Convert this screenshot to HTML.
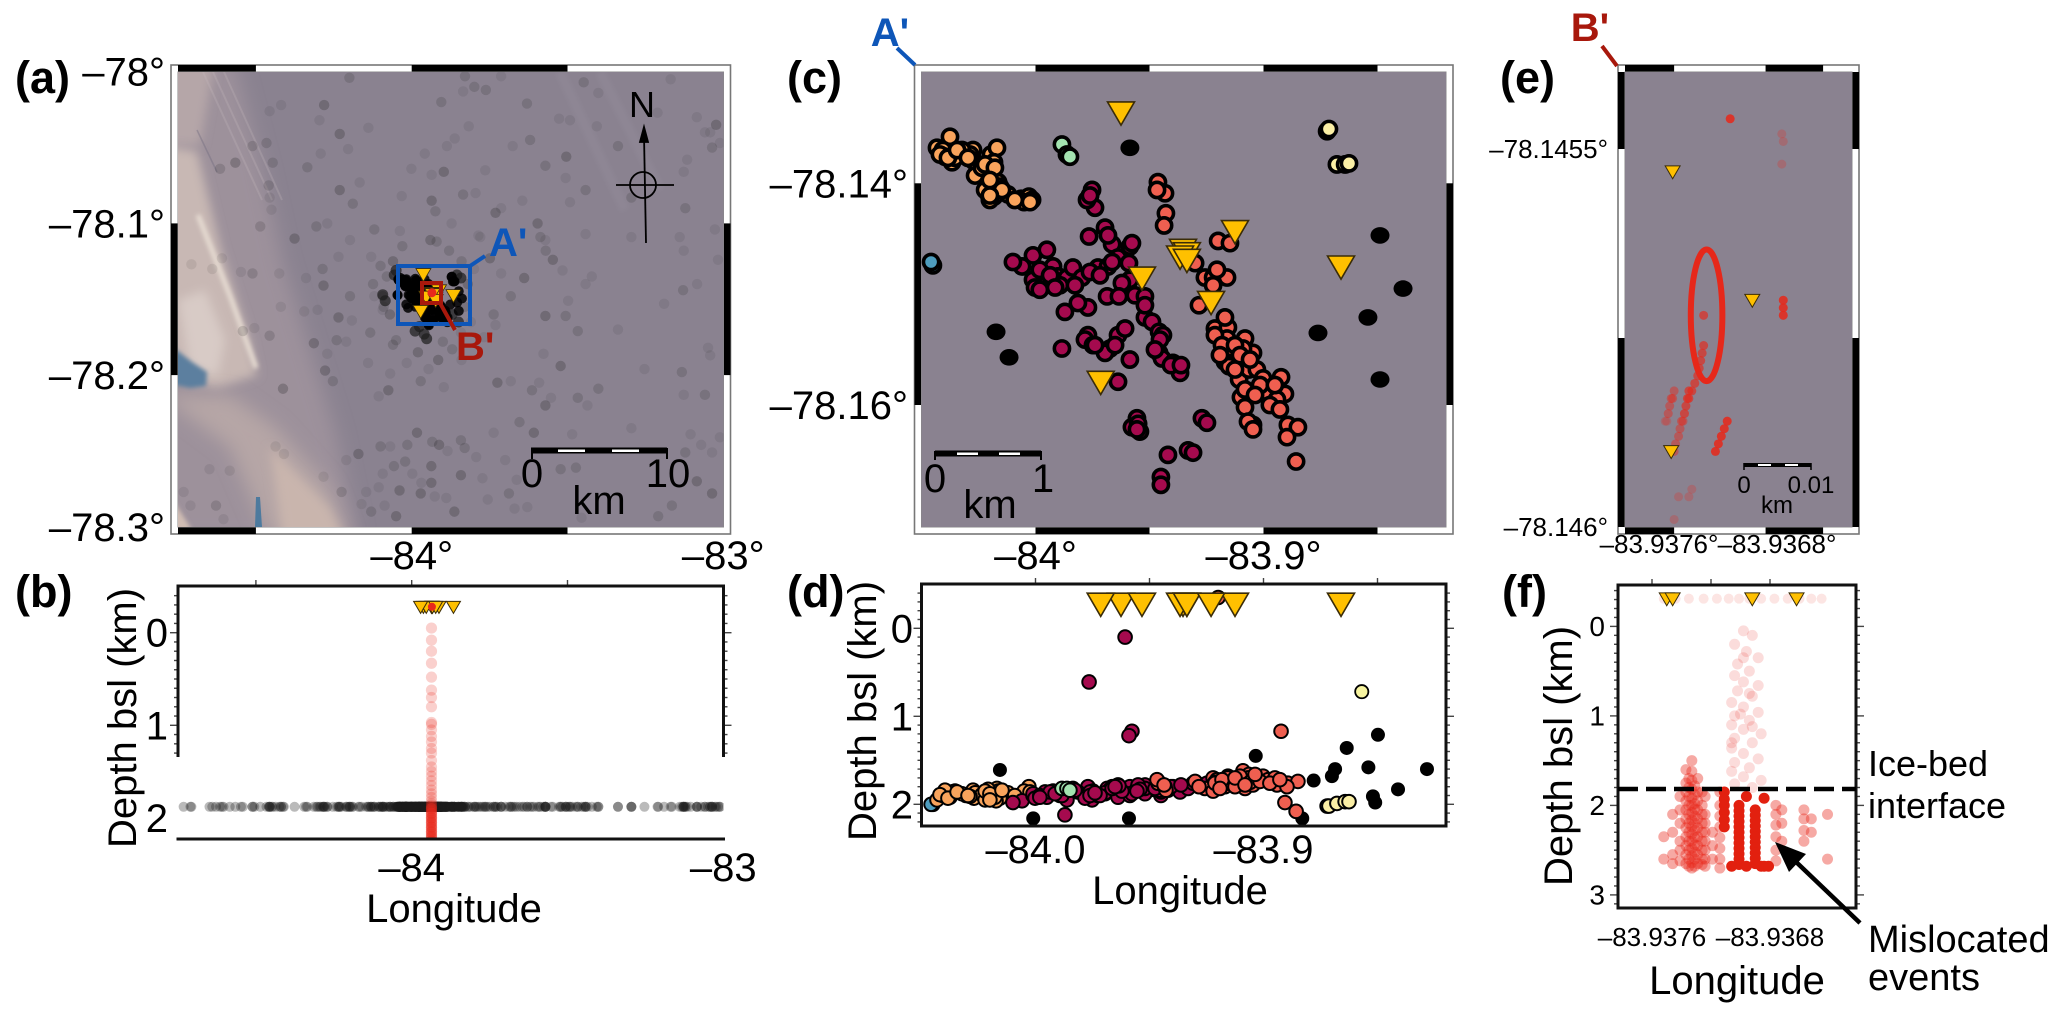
<!DOCTYPE html>
<html lang="en">
<head>
<meta charset="utf-8">
<title>Seismic event locations</title>
<style>
html,body{margin:0;padding:0;background:#fff}
svg{display:block}
text{font-family:"Liberation Sans",sans-serif;fill:#000}
.bold{font-weight:bold}
</style>
</head>
<body>
<svg id="figure" xmlns="http://www.w3.org/2000/svg" width="2067" height="1018" viewBox="0 0 2067 1018">
<defs>
<clipPath id="clip-a"><rect x="178" y="72" width="545.5" height="455"/></clipPath>
<clipPath id="clip-c"><rect x="921.5" y="72" width="524.5" height="455"/></clipPath>
<clipPath id="clip-e"><rect x="1625" y="72" width="227" height="455"/></clipPath>
<clipPath id="clip-b"><rect x="178" y="586" width="545.5" height="253"/></clipPath>
<clipPath id="clip-d"><rect x="921.5" y="584" width="524.5" height="242"/></clipPath>
<clipPath id="clip-f"><rect x="1618" y="585" width="238" height="323"/></clipPath>
<filter id="blur-large" filterUnits="userSpaceOnUse" x="0" y="0" width="2067" height="1018"><feGaussianBlur stdDeviation="9"/></filter>
<filter id="blur-mid" filterUnits="userSpaceOnUse" x="0" y="0" width="2067" height="1018"><feGaussianBlur stdDeviation="5"/></filter>
<filter id="blur-small" filterUnits="userSpaceOnUse" x="0" y="0" width="2067" height="1018"><feGaussianBlur stdDeviation="2"/></filter>
</defs>
<rect width="2067" height="1018" fill="#fff"/>

<g id="frame-a"></g>
<g clip-path="url(#clip-a)">
<rect x="178" y="72" width="546" height="455" fill="#8a8290"/>
<polygon points="150,60 234,60 263,171 283,263 336,434 358,540 150,540" fill="#9d919b" filter="url(#blur-large)"/>
<polygon points="160,60 215,60 200,145 160,145" fill="#b5a6a8" filter="url(#blur-mid)"/>
<polygon points="160,145 197,151 221,250 250,342 257,375 217,388 160,375" fill="#c8b8b4" filter="url(#blur-mid)"/>
<polygon points="178,300 205,290 225,340 218,375 190,370" fill="#d8cbc6" filter="url(#blur-mid)"/>
<path d="M198 215L230 296L256 368" stroke="#e6dbd2" stroke-width="5" fill="none" filter="url(#blur-small)"/>
<polygon points="160,395 230,395 276,428 329,487 349,540 270,540 230,447" fill="#b6a6a6" filter="url(#blur-large)"/>
<polygon points="270,447 329,507 345,540 283,540" fill="#c9b5ad" filter="url(#blur-mid)"/>
<polygon points="170,495 192,530 170,530" fill="#d0bdb4" filter="url(#blur-small)"/>
<polygon points="170,345 192,362 207,372 206,386 190,388 170,384" fill="#5c7f9f" filter="url(#blur-small)"/>
<polygon points="256,497 260,497 262,527 255,527" fill="#4d7a9e"/>
<path d="M203 72L262 200M213 72L272 200M224 72L282 200" stroke="#c9bcc0" stroke-width="2" fill="none" opacity=".25"/>
<path d="M197 130L217 172" stroke="#6d6a7c" stroke-width="1.5" fill="none" opacity=".4"/>
<path d="M560 72L625 210M600 72L660 190" stroke="#9f98a6" stroke-width="10" fill="none" opacity=".2" filter="url(#blur-small)"/>
</g>
<g id="marks-a" clip-path="url(#clip-a)"></g>

<rect x="398" y="266" width="72" height="58" fill="none" stroke="#0e56b8" stroke-width="4"/>
<line x1="470" y1="266" x2="485" y2="256" stroke="#0e56b8" stroke-width="4"/>
<rect x="422" y="283" width="19" height="20" fill="none" stroke="#a8180c" stroke-width="4"/>
<line x1="440" y1="303" x2="455" y2="330" stroke="#a8180c" stroke-width="4"/>
<text class="bold" x="489" y="256" font-size="40" style="fill:#0e56b8">A'</text>
<text class="bold" x="456" y="360" font-size="40" style="fill:#a8180c">B'</text>

<g stroke="#000" fill="none" stroke-width="1.8">
<circle cx="643" cy="185" r="13"/>
<line x1="616" y1="185" x2="674" y2="185"/>
<line x1="644" y1="135" x2="646" y2="243"/>
<polygon points="644,127 640,142 648,142" fill="#000"/>
</g>
<text x="642" y="117" font-size="36" text-anchor="middle">N</text>

<g>
<rect x="531" y="447.5" width="136" height="6" fill="#000"/>
<rect x="558" y="449.5" width="27" height="2.5" fill="#fff"/>
<rect x="612" y="449.5" width="27" height="2.5" fill="#fff"/>
<path d="M532 448V459M667 448V459" stroke="#000" stroke-width="2"/>
</g>
<text x="532" y="487" font-size="40" text-anchor="middle">0</text>
<text x="668" y="487" font-size="40" text-anchor="middle">10</text>
<text x="599" y="514" font-size="40" text-anchor="middle">km</text>

<g id="frame-c"></g>
<rect x="921.5" y="72" width="524.5" height="455" fill="#8a8290"/>
<g id="marks-c" clip-path="url(#clip-c)"></g>
<g>
<rect x="935" y="450.5" width="106" height="6" fill="#000"/>
<rect x="957" y="452.5" width="21" height="2.5" fill="#fff"/>
<rect x="999" y="452.5" width="21" height="2.5" fill="#fff"/>
<path d="M935 451V460M1041 451V460" stroke="#000" stroke-width="2"/>
</g>
<text x="935" y="492" font-size="40" text-anchor="middle">0</text>
<text x="1043" y="492" font-size="40" text-anchor="middle">1</text>
<text x="990" y="518" font-size="40" text-anchor="middle">km</text>
<line x1="897" y1="48" x2="915" y2="65" stroke="#0e56b8" stroke-width="4"/>
<text class="bold" x="890" y="46" font-size="40" text-anchor="middle" style="fill:#0e56b8">A'</text>

<g id="frame-e"></g>
<rect x="1625" y="72" width="227" height="455" fill="#8a8290"/>
<g id="marks-e" clip-path="url(#clip-e)"></g>
<g>
<rect x="1744" y="463" width="67" height="4" fill="#000"/>
<rect x="1758" y="464" width="13" height="2" fill="#fff"/>
<rect x="1785" y="464" width="13" height="2" fill="#fff"/>
<path d="M1744 463V470M1811 463V470" stroke="#000" stroke-width="1.5"/>
</g>
<text x="1744" y="493" font-size="24" text-anchor="middle">0</text>
<text x="1811" y="493" font-size="24" text-anchor="middle">0.01</text>
<text x="1777" y="513" font-size="24" text-anchor="middle">km</text>
<line x1="1602" y1="46" x2="1617" y2="66" stroke="#a8180c" stroke-width="4"/>
<text class="bold" x="1590" y="41" font-size="40" text-anchor="middle" style="fill:#a8180c">B'</text>

<g id="marks-b" clip-path="url(#clip-b)"></g>
<g id="axes-b"></g>
<g id="marks-d" clip-path="url(#clip-d)"></g>
<g id="axes-d"></g>
<g id="marks-f" clip-path="url(#clip-f)"></g>
<g id="axes-f"></g>
<g id="tick-labels"></g>

<text class="bold" x="15" y="93" font-size="45">(a)</text>
<text class="bold" x="15" y="607" font-size="45">(b)</text>
<text class="bold" x="787" y="93" font-size="45">(c)</text>
<text class="bold" x="787" y="607" font-size="45">(d)</text>
<text class="bold" x="1500" y="93" font-size="45">(e)</text>
<text class="bold" x="1502" y="607" font-size="45">(f)</text>

<text font-size="40" text-anchor="middle" transform="translate(136,718) rotate(-90)">Depth bsl (km)</text>
<text font-size="40" text-anchor="middle" transform="translate(876,711) rotate(-90)">Depth bsl (km)</text>
<text font-size="40" text-anchor="middle" transform="translate(1572,756) rotate(-90)">Depth bsl (km)</text>
<text font-size="40" text-anchor="middle" x="454" y="922">Longitude</text>
<text font-size="40" text-anchor="middle" x="1180" y="904">Longitude</text>
<text font-size="40" text-anchor="middle" x="1737" y="994">Longitude</text>

<line x1="1618" y1="789" x2="1856" y2="789" stroke="#000" stroke-width="4.5" stroke-dasharray="20 8"/>
<text font-size="36" x="1868" y="776">Ice-bed</text>
<text font-size="36" x="1868" y="818">interface</text>
<text font-size="38" x="1868" y="952">Mislocated</text>
<text font-size="38" x="1868" y="990">events</text>
<g>
<line x1="1860" y1="923" x2="1793" y2="859" stroke="#000" stroke-width="4.5"/>
<polygon points="1775,842 1806,854 1789,872" fill="#000"/>
</g>

<script>
// ---- Data: station positions (lon, lat)
const stations = [[-83.9625,-78.1336],[-83.9125,-78.1443],[-83.9353,-78.146],[-83.9336,-78.1463],[-83.9366,-78.1466],[-83.9336,-78.1469],[-83.9533,-78.1485],[-83.923,-78.1507],[-83.866,-78.1475],[-83.9714,-78.1579]];
const stationDepth = -0.28;
// ---- Clustered events (lon, lat, depth km)
const eventsOrange = [[-84.0375,-78.1358,1.92],[-84.0388,-78.1373,1.88],[-84.0432,-78.1368,1.95],[-84.0366,-78.1381,1.86],[-84.0305,-78.1372,1.9],[-84.0274,-78.137,1.84],[-84.027,-78.138,1.93],[-84.0265,-78.1393,1.87],[-84.0195,-78.1374,1.9],[-84.0169,-78.1368,1.82],[-84.0182,-78.1381,1.88],[-84.0191,-78.1393,1.94],[-84.0164,-78.1399,1.85],[-84.0182,-78.1412,1.9],[-84.0208,-78.1409,1.83],[-84.0121,-78.141,1.87],[-84.0064,-78.1414,1.92],[-84.0029,-78.1412,1.8],[-84.0235,-78.1386,1.89],[-84.0406,-78.137,1.9],[-84.0353,-78.1377,1.85],[-84.0287,-78.1374,1.91],[-84.0322,-78.137,1.88],[-84.0221,-78.1406,1.95],[-84.0156,-78.1403,1.93],[-84.005,-78.1417,1.85],[-84.0015,-78.1415,1.88],[-84.0397,-78.1376,1.84],[-84.0173,-78.1406,1.96],[-84.02,-78.1415,1.91],[-84.0419,-78.1374,1.89],[-84.0384,-78.1377,1.93],[-84.0344,-78.137,1.86],[-84.0296,-78.1377,1.9],[-84.0221,-78.1383,1.85],[-84.0178,-78.1386,1.92],[-84.02,-78.1397,1.88],[-84.0147,-78.1406,1.84],[-84.02,-78.1411,1.95],[-84.0091,-78.1415,1.9],[-84.0024,-78.1417,1.86]];
const eventsMaroon = [[-83.9761,-78.1411,1.86],[-83.9739,-78.1422,1.9],[-83.9774,-78.1415,1.82],[-83.9752,-78.1406,1.95],[-83.9695,-78.144,1.88],[-83.9664,-78.1455,1.8],[-83.9765,-78.1448,0.61],[-83.9682,-78.1447,1.85],[-84.0059,-78.1475,1.96],[-84.0011,-78.1465,1.9],[-83.995,-78.146,1.92],[-83.9923,-78.1475,1.85],[-83.9901,-78.1484,1.88],[-83.9862,-78.1485,1.95],[-83.9836,-78.1476,1.82],[-83.9796,-78.1485,1.87],[-83.9726,-78.1476,1.9],[-83.9682,-78.1475,1.84],[-83.9638,-78.1467,1.78],[-84.0011,-78.1487,1.88],[-84.0002,-78.1494,1.93],[-83.9958,-78.1492,1.86],[-83.9893,-78.1492,1.9],[-84.0099,-78.1471,1.98],[-83.9686,-78.1502,1.82],[-83.977,-78.1512,1.8],[-83.9814,-78.1508,1.86],[-83.9871,-78.1516,2.12],[-83.977,-78.1537,1.88],[-83.9783,-78.1541,1.93],[-83.9748,-78.1546,1.85],[-83.9884,-78.1549,1.9],[-83.9673,-78.1549,1.83],[-83.9695,-78.1553,1.87],[-83.9638,-78.1537,1.8],[-83.9638,-78.1579,1.92],[-83.9564,-78.1501,1.84],[-83.9586,-78.1487,1.8],[-83.9586,-78.1457,1.88],[-83.952,-78.1521,1.78],[-83.9489,-78.1525,1.83],[-83.9458,-78.1534,1.86],[-83.9441,-78.1537,1.8],[-83.9458,-78.1553,1.75],[-83.9445,-78.1558,1.84],[-83.9397,-78.1562,1.8],[-83.9366,-78.1571,1.86],[-83.9586,-78.1559,1.9],[-83.9555,-78.1612,1.82],[-83.927,-78.1612,1.78],[-83.9248,-78.1616,1.76],[-83.9577,-78.162,1.88],[-83.9577,-78.1454,1.17],[-83.959,-78.1472,1.22],[-83.9621,-78.149,1.85],[-83.9634,-78.1502,1.79],[-83.952,-78.1502,1.88],[-83.9607,-78.1531,0.1],[-83.952,-78.151,1.82],[-83.955,-78.1617,1.78],[-83.9419,-78.1645,1.84],[-83.9331,-78.1641,1.82],[-83.9309,-78.1643,1.76],[-83.945,-78.1665,1.9],[-83.945,-78.1672,1.86],[-83.9542,-78.1624,1.83],[-83.9981,-78.1478,1.9],[-83.9936,-78.1483,1.86],[-83.9981,-78.1496,1.92],[-83.9914,-78.1494,1.88],[-83.9827,-78.1492,1.84],[-83.9761,-78.148,1.86],[-83.9717,-78.1483,1.9],[-83.9664,-78.1471,1.82],[-83.9761,-78.1411,1.9],[-83.9739,-78.1546,1.87],[-83.9651,-78.1546,1.8],[-83.9454,-78.1541,1.84],[-83.9476,-78.155,1.82],[-83.9406,-78.1564,1.8],[-83.9362,-78.1564,1.78],[-83.9555,-78.1622,1.85]];
const eventsSalmon = [[-83.9463,-78.1399,1.76],[-83.9432,-78.1409,1.8],[-83.9467,-78.1406,1.72],[-83.9428,-78.1427,1.84],[-83.9436,-78.1438,1.78],[-83.9199,-78.1452,-0.35],[-83.9147,-78.1454,1.7],[-83.93,-78.1472,1.74],[-83.9257,-78.1485,1.82],[-83.9221,-78.1485,1.7],[-83.916,-78.1485,1.76],[-83.9221,-78.1492,1.85],[-83.9204,-78.1478,1.72],[-83.9283,-78.151,1.8],[-83.9213,-78.1531,1.75],[-83.9156,-78.153,1.68],[-83.9169,-78.1521,1.72],[-83.9081,-78.154,1.66],[-83.916,-78.154,1.78],[-83.9156,-78.1549,1.7],[-83.9046,-78.1553,1.74],[-83.909,-78.1549,1.62],[-83.9169,-78.1561,1.8],[-83.9151,-78.1565,1.76],[-83.9107,-78.1577,1.7],[-83.9064,-78.1568,1.66],[-83.9029,-78.1568,1.74],[-83.9002,-78.1576,1.68],[-83.8923,-78.1575,1.17],[-83.8906,-78.159,1.98],[-83.898,-78.1589,1.72],[-83.8941,-78.1595,1.78],[-83.9099,-78.1593,1.72],[-83.9081,-78.1602,1.82],[-83.9046,-78.1618,1.75],[-83.9068,-78.1615,1.7],[-83.8893,-78.1618,1.76],[-83.8849,-78.162,1.74],[-83.8897,-78.1629,1.8],[-83.8857,-78.1651,2.08],[-83.9046,-78.1622,1.78],[-83.9213,-78.1537,1.76],[-83.9182,-78.1546,1.72],[-83.9125,-78.1546,1.8],[-83.9103,-78.1555,1.68],[-83.9059,-78.1559,1.75],[-83.9125,-78.1568,1.7],[-83.9191,-78.1555,1.82],[-83.9015,-78.1582,1.74],[-83.895,-78.1582,1.7],[-83.9081,-78.1586,1.78],[-83.9037,-78.1591,1.66],[-83.8972,-78.16,1.76],[-83.8928,-78.1604,1.72]];
const eventsPale = [[-83.8721,-78.1353,2.02],[-83.8713,-78.1351,2.02],[-83.8678,-78.1383,1.99],[-83.8642,-78.1383,1.97],[-83.8625,-78.1382,1.97]];
const eventsMint = [[-83.9884,-78.1365,1.82],[-83.9862,-78.1374,1.82],[-83.9849,-78.1376,1.84]];
const eventsBlue = [[-84.045,-78.1474,2.0],[-84.0458,-78.1471,2.0]];
const eventsBlack = [[-83.8489,-78.1447],[-83.8388,-78.1495],[-83.8542,-78.1521],[-83.8761,-78.1535],[-83.8489,-78.1577],[-83.9586,-78.1368],[-84.0173,-78.1534],[-84.0116,-78.1557]];
// ---- Near-field events shown only in the regional map (lon, lat)
const outerCluster = [[-83.989,-78.171],[-83.952,-78.176],[-83.96,-78.173],[-83.975,-78.168],[-84.056,-78.134],[-84.05,-78.131],[-83.842,-78.136],[-83.855,-78.134],[-84.093,-78.147],[-84.085,-78.151],[-83.87,-78.16],[-83.85,-78.165]];
// ---- Section-only events (lon, depth)
const sectionBlack = [[-84.0156,1.61],[-84.001,2.16],[-83.959,2.16],[-83.9034,1.45],[-83.8635,1.36],[-83.8498,1.21],[-83.8283,1.6],[-83.8686,1.6],[-83.878,1.73],[-83.87,1.68],[-83.854,1.58],[-83.852,1.91],[-83.841,1.83],[-83.883,2.16],[-83.851,1.98]];
const sectionPale = [[-83.8569,0.72]];
// ---- Regional catalogue for map (a): lon, lat, overlap count
const regional = [[-84.2,-78.004,2],[-83.829,-78.003,2],[-83.713,-78.003,1],[-84.281,-78.022,3],[-83.905,-78.02,2],[-83.799,-78.01,2],[-83.762,-78.012,2],[-83.835,-78.013,1],[-83.63,-78.021,2],[-84.456,-78.026,1],[-84.419,-78.022,1],[-84.296,-78.032,1],[-84.231,-78.041,3],[-84.139,-78.037,1],[-84.511,-78.049,2],[-84.466,-78.047,2],[-84.204,-78.051,1],[-84.292,-78.054,1],[-83.958,-78.054,1],[-83.887,-78.049,1],[-83.862,-78.044,1],[-83.817,-78.036,1],[-83.62,-78.045,2],[-83.676,-78.049,1],[-84.566,-78.06,3],[-84.446,-78.06,2],[-84.335,-78.063,2],[-83.897,-78.066,3],[-83.936,-78.068,1],[-84.001,-78.064,1],[-83.764,-78.065,1],[-83.571,-78.062,2],[-83.504,-78.056,3],[-84.615,-78.064,2],[-84.459,-78.075,2],[-84.231,-78.078,3],[-84.167,-78.073,1],[-83.835,-78.081,2],[-83.795,-78.08,1],[-84.456,-78.083,1],[-83.936,-78.085,3],[-84.189,-78.087,2],[-84.032,-78.082,1],[-84.45,-78.091,1],[-83.731,-78.093,3],[-83.645,-78.085,1],[-83.924,-78.092,2],[-83.596,-78.1,3],[-83.713,-78.09,1],[-83.587,-78.109,2],[-84.486,-78.102,2],[-84.306,-78.102,2],[-84.271,-78.1,1],[-84.376,-78.11,3],[-84.12,-78.104,2],[-84.038,-78.105,1],[-83.94,-78.111,3],[-83.786,-78.108,1],[-83.872,-78.1,1],[-83.442,-78.107,1],[-83.492,-78.086,1],[-83.442,-78.078,2],[-83.448,-78.007,2],[-83.492,-78.032,1],[-83.406,-78.036,1],[-84.235,-78.122,1],[-84.198,-78.111,1],[-84.13,-78.122,1],[-84.286,-78.13,2],[-84.283,-78.141,3],[-84.339,-78.136,1],[-84.425,-78.133,1],[-84.511,-78.133,2],[-84.548,-78.132,1],[-84.64,-78.13,1],[-84.707,-78.127,1],[-84.609,-78.123,1],[-84.198,-78.148,2],[-84.235,-78.162,3],[-84.192,-78.164,1],[-84.345,-78.158,1],[-84.302,-78.157,1],[-84.42,-78.155,1],[-84.093,-78.148,3],[-84.124,-78.14,2],[-84.093,-78.157,1],[-84.133,-78.172,2],[-84.241,-78.177,2],[-84.21,-78.178,1],[-84.314,-78.179,3],[-84.271,-78.186,1],[-84.05,-78.177,2],[-84.456,-78.174,2],[-84.542,-78.171,2],[-84.505,-78.169,1],[-84.016,-78.192,1],[-84.069,-78.199,1],[-84.14,-78.192,1],[-83.915,-78.19,3],[-83.946,-78.196,1],[-84.278,-78.197,3],[-84.253,-78.204,2],[-84.413,-78.209,3],[-83.971,-78.204,2],[-84.075,-78.21,3],[-84.106,-78.214,1],[-83.897,-78.208,1],[-83.725,-78.205,3],[-83.682,-78.204,1],[-83.614,-78.21,2],[-83.571,-78.22,3],[-83.553,-78.215,1],[-83.467,-78.215,2],[-83.436,-78.22,1],[-83.522,-78.194,3],[-83.571,-78.161,3],[-83.639,-78.136,3],[-83.682,-78.148,2],[-83.737,-78.16,2],[-83.731,-78.167,1],[-83.768,-78.175,1],[-83.842,-78.172,1],[-83.577,-78.186,1],[-83.467,-78.171,2],[-83.442,-78.14,1],[-83.498,-78.151,1],[-83.547,-78.124,3],[-83.516,-78.131,1],[-83.571,-78.111,1],[-83.749,-78.123,3],[-83.713,-78.133,1],[-83.78,-78.109,1],[-84.171,-78.252,3],[-84.1,-78.247,2],[-84.069,-78.247,1],[-84.014,-78.246,2],[-83.983,-78.238,3],[-83.934,-78.244,2],[-83.912,-78.246,3],[-83.885,-78.25,1],[-83.842,-78.243,2],[-83.83,-78.248,2],[-83.793,-78.254,1],[-83.737,-78.238,1],[-83.608,-78.238,3],[-83.7,-78.256,1],[-83.663,-78.269,1],[-84.021,-78.257,2],[-84.057,-78.26,2],[-83.937,-78.26,3],[-84.21,-78.256,1],[-84.093,-78.265,1],[-83.998,-78.265,1],[-83.937,-78.271,3],[-83.971,-78.278,3],[-84.039,-78.276,3],[-83.842,-78.266,3],[-83.969,-78.271,1],[-83.889,-78.281,1],[-83.926,-78.28,1],[-83.756,-78.282,1],[-83.688,-78.278,2],[-83.629,-78.287,1],[-83.67,-78.288,1],[-83.863,-78.29,3],[-84.05,-78.293,3],[-84.13,-78.29,2],[-84.161,-78.285,1],[-84.087,-78.286,1],[-84.225,-78.277,2],[-84.106,-78.274,1],[-84.146,-78.277,1],[-84.283,-78.267,1],[-84.584,-78.263,1],[-84.649,-78.262,1],[-84.628,-78.286,2],[-84.71,-78.286,1],[-84.732,-78.277,1],[-84.604,-78.295,1],[-84.437,-78.247,1],[-84.41,-78.252,1],[-83.773,-78.268,1],[-83.522,-78.262,2],[-83.473,-78.261,2],[-83.455,-78.294,1],[-83.085,-78.03,1],[-83.023,-78.035,3],[-83.059,-78.04,1],[-83.036,-78.05,2],[-83.011,-78.047,1],[-83.116,-78.058,1],[-83.122,-78.09,2],[-83.027,-78.104,1],[-83.14,-78.109,1],[-83.017,-78.124,1],[-83.129,-78.144,2],[-83.049,-78.182,1],[-83.133,-78.198,2],[-83.059,-78.213,2],[-83.085,-78.27,3],[-83.036,-78.278,3],[-83.165,-78.286,2],[-83.209,-78.293,2],[-83.122,-78.251,2],[-83.036,-78.251,1],[-83.071,-78.246,1],[-83.011,-78.241,1],[-83.527,-78.031,1],[-83.401,-78.014,1],[-83.338,-78.049,2],[-83.211,-78.027,1],[-83.506,-78.07,1],[-83.295,-78.083,2],[-83.127,-78.066,1],[-83.042,-78.04,1],[-83.169,-78.005,1],[-83.57,-78.118,2],[-83.422,-78.135,1],[-83.295,-78.109,1],[-83.127,-78.118,1],[-83.506,-78.161,2],[-83.338,-78.17,1],[-83.19,-78.153,1],[-83.084,-78.14,1],[-83.591,-78.205,1],[-83.401,-78.209,2],[-83.253,-78.196,1],[-83.127,-78.213,1],[-83.042,-78.187,1],[-83.654,-78.231,2],[-83.485,-78.239,1],[-83.295,-78.235,1],[-83.105,-78.239,1],[-84.06,-78.125,3],[-84.08,-78.135,2],[-84.1,-78.128,2],[-83.84,-78.125,2],[-83.82,-78.14,3],[-83.8,-78.13,1],[-83.83,-78.155,2],[-83.81,-78.165,1],[-84.07,-78.16,3],[-84.09,-78.155,2],[-84.06,-78.18,2],[-83.98,-78.185,3],[-83.87,-78.183,2],[-83.9,-78.178,2],[-83.84,-78.19,1],[-84.03,-78.115,2],[-83.92,-78.112,2],[-83.88,-78.118,2],[-84.12,-78.148,1]];
const regionalBedDepth = 1.88;
// ---- Panel (b): depths of the detected column
const columnLon = -83.9365;
const columnDepths = [-0.05,0.08,0.2,0.33,0.48,0.62,0.7,0.8,0.97,0.99,1.05,1.12,1.18,1.25,1.3,1.38,1.45,1.5,1.55,1.6,1.65,1.7,1.74,1.78,1.82,1.85,1.88,1.9,1.93,1.95,1.97,2.0,2.02,2.05,2.07,2.1,2.12,2.15,2.17,2.2,2.22,2.25,1.9,1.95,2.0,2.05,2.1,2.15,2.2,2.25,1.9,1.95,2.0,2.05,2.1,2.15,2.2,2.25,1.87,1.92,1.98,2.03,2.08,2.13,2.18,2.23];
// ---- Panel (e): relocated event streaks (lon, lat, strength 1-4)
const streakEvents = [[-83.93707,-78.14546,4],[-83.93672,-78.14548,1],[-83.93671,-78.14549,1],[-83.93672,-78.14552,1],[-83.93671,-78.14571,4],[-83.93671,-78.14572,4],[-83.93671,-78.14570,4],[-83.93725,-78.14572,3],[-83.93725,-78.14576,3],[-83.93726,-78.14577,3],[-83.93727,-78.14578,3],[-83.93728,-78.14579,3],[-83.93729,-78.1458,3],[-83.93731,-78.14581,3],[-83.93733,-78.14582,3],[-83.93735,-78.14582,3],[-83.93735,-78.14583,3],[-83.93736,-78.14583,3],[-83.93737,-78.14584,3],[-83.93738,-78.14585,3],[-83.93739,-78.14586,2],[-83.9374,-78.14586,2],[-83.93741,-78.14587,2],[-83.93742,-78.14588,2],[-83.93744,-78.14589,2],[-83.93745,-78.1459,2],[-83.93745,-78.14582,2],[-83.93746,-78.14583,2],[-83.93747,-78.14583,2],[-83.93748,-78.14584,2],[-83.93749,-78.14585,2],[-83.9375,-78.14586,1],[-83.93751,-78.14586,1],[-83.93717,-78.1459,4],[-83.93715,-78.14589,4],[-83.93713,-78.14588,4],[-83.93711,-78.14587,4],[-83.93709,-78.14586,4],[-83.93733,-78.14595,1],[-83.93735,-78.14596,1],[-83.93742,-78.14596,1],[-83.93745,-78.14599,1]];
const streakEllipse = [-83.93723,-78.14572,0.000107,0.000087];
const stationsE = [[-83.93746,-78.14553],[-83.93692,-78.1457],[-83.93747,-78.1459]];
const redEpicentre = [-83.9351,-78.1457];
// ---- Panel (f): relocated events (lon, depth)
const fColumn = [[-83.93698,0.05],[-83.93692,0.1],[-83.93704,0.2],[-83.93696,0.28],[-83.93688,0.35],[-83.93702,0.42],[-83.93694,0.5],[-83.93704,0.55],[-83.93698,0.62],[-83.93688,0.66],[-83.93702,0.72],[-83.93692,0.78],[-83.93706,0.85],[-83.93698,0.9],[-83.93688,0.96],[-83.93704,1.0],[-83.93694,1.05],[-83.93706,1.1],[-83.93698,1.15],[-83.93686,1.2],[-83.93704,1.25],[-83.93692,1.3],[-83.93706,1.36],[-83.93698,1.42],[-83.93688,1.48],[-83.93704,1.52],[-83.93694,1.58],[-83.93706,1.62],[-83.93698,1.68],[-83.93686,1.72],[-83.93704,1.76],[-83.93692,1.8],[-83.93706,1.3],[-83.93698,0.35],[-83.93694,0.75],[-83.937,0.98],[-83.93692,1.12]];
const fSurfaceLons = [-83.93752,-83.93744,-83.93735,-83.93725,-83.93716,-83.93708,-83.93701,-83.93694,-83.93686,-83.93677,-83.93668,-83.9366,-83.93652,-83.93645];
const fSurfaceDepth = -0.31;
const fBed = [[-83.93752,[2.35,2.6]],[-83.93746,[2.1,2.3,2.55,2.65]],[-83.93741,[1.9,2.05,2.2,2.4,2.5,2.62]],[-83.93737,[1.6,1.75,1.85,1.95,2.05,2.15,2.25,2.35,2.45,2.55,2.65]],[-83.93735,[1.7,1.8,1.9,2.0,2.1,2.2,2.3,2.4,2.5,2.6,2.68]],[-83.93733,[1.5,1.62,1.72,1.82,1.92,2.0,2.08,2.16,2.24,2.32,2.4,2.48,2.56,2.64,2.7]],[-83.93731,[1.78,1.88,1.98,2.04,2.12,2.2,2.28,2.36,2.44,2.52,2.6,2.68]],[-83.93729,[1.7,1.85,1.95,2.05,2.15,2.25,2.35,2.45,2.55,2.65]],[-83.93726,[1.85,2.0,2.1,2.2,2.3,2.4,2.5,2.6,2.66]],[-83.93724,[1.9,2.1,2.2,2.3,2.4,2.5,2.6,2.68]],[-83.93719,[2.3,2.45,2.6]],[-83.93714,[1.85,2.0,2.12,2.24,2.36,2.48,2.6,2.7]],[-83.93676,[2.0,2.1,2.22,2.35,2.5,2.62]],[-83.93672,[2.05,2.2,2.4]],[-83.93657,[2.05,2.15,2.28,2.4]],[-83.93652,[2.15,2.3]],[-83.93641,[2.1,2.6]]];
const fMislocated = [[-83.93701,[2.0,2.06,2.12,2.18,2.24,2.3,2.36,2.42,2.48,2.54,2.6,2.66]],[-83.9369,[2.05,2.11,2.17,2.23,2.29,2.35,2.41,2.47,2.53,2.59,2.65]],[-83.93711,[1.85,1.93,2.0,2.08,2.16,2.24]],[-83.93706,[2.68]],[-83.93696,[1.9,2.68]],[-83.93686,[2.68]],[-83.93684,[1.92,2.68]],[-83.93681,[2.68]]];
const stationsFLons = [-83.9375,-83.93746,-83.93692,-83.93662];
const stationFDepth = -0.31;
// ---- Tick values and labels
const aLonTicks = [-84.5,-84,-83.5];
const aLonLabelValues = [-84,-83];
const aLonLabels = ['–84°','–83°'];
const aLatTicks = [-78.1,-78.2];
const aLatLabelValues = [-78,-78.1,-78.2,-78.3];
const aLatLabels = ['–78°','–78.1°','–78.2°','–78.3°'];
const cLonTicks = [-84,-83.95,-83.9,-83.85];
const cLonLabelValues = [-84,-83.9];
const cLonLabels = ['–84°','–83.9°'];
const cLatTicks = [-78.14,-78.16];
const cLatLabels = ['–78.14°','–78.16°'];
const eLonTicks = [-83.93745,-83.93683,-83.93644];
const eLonLabelValues = [-83.9376,-83.9368];
const eLonLabels = ['–83.9376°','–83.9368°'];
const eLatTicks = [-78.1455,-78.14575];
const eLatLabelValues = [-78.1455,-78.146];
const eLatLabels = ['–78.1455°','–78.146°'];
const bDepthLabels = [0,1,2];
const dDepthLabels = [0,1,2];
const fDepthLabels = [0,1,2,3];
const bSecLabels = ['–84','–83'];
const dSecLabelValues = [-84,-83.9];
const dSecLabels = ['–84.0','–83.9'];
const fSecLabels = ['–83.9376','–83.9368'];

// ---- Axis functions
const xA = lon => 411.7 + (lon + 84) * 311.6;
const yA = lat => 71.7 + (-78 - lat) * 1517;
const xC = lon => 1035.5 + (lon + 84) * 2280;
const yC = lat => 183.3 + (-78.14 - lat) * 11085;
const xE = lon => 1652 + (lon + 83.9376) * 147500;
const yE = lat => 149 + (-78.1455 - lat) * 756000;
const xF = xE;
const yB = d => 632.7 + d * 92.6;
const yD = d => 628.3 + d * 88;
const yF = d => 626.4 + d * 89.5;

const NS = 'http://www.w3.org/2000/svg';
const node = (tag, parent, attrs) => {
  const el = document.createElementNS(NS, tag);
  for (const k in attrs) el.setAttribute(k, attrs[k]);
  parent.appendChild(el);
  return el;
};
const $ = id => document.getElementById(id);

function drawEvent(parent, x, y, r, fill, stroke, sw, op) {
  const el = node('circle', parent, {cx: x, cy: y, r: r, fill: fill, stroke: stroke, 'stroke-width': sw, opacity: op});
  
  
}
function drawRegional(parent, x, y, r, op) {
  const el = node('circle', parent, {cx: x, cy: y, r: r, fill: '#1c1c1c', opacity: op});
  
  
}
function drawStation(parent, x, y, w, sw) {
  const h = w * 0.86;
  const el = node('polygon', parent, {points: (x - w / 2) + ',' + (y - h * 0.45) + ' ' + (x + w / 2) + ',' + (y - h * 0.45) + ' ' + x + ',' + (y + h * 0.55), fill: '#ffc000', stroke: '#3a2c08', 'stroke-width': sw});
  
  
}
function drawTickLabel(str, x, y, size, anchor) {
  const el = node('text', $('tick-labels'), {x: x, y: y + size * 0.35, 'font-size': size, 'text-anchor': anchor});
  el.textContent = str;
  
  
}
function drawFrameBar(parent, x, y, w, h, fill) {
  const el = node('rect', parent, {x: x, y: y, width: w, height: h, fill: fill});
  
  
}
function drawMapFrame(parent, x0, x1, y0, y1, xs, ys, xBlackFirst, yBlackFirst) {
  const t = 7;
  const outer = node('rect', parent, {x: x0 - t, y: y0 - t, width: x1 - x0 + 2 * t, height: y1 - y0 + 2 * t, fill: '#fff', stroke: '#777', 'stroke-width': 1.6});
  
  
  const xb = [x0].concat(xs, [x1]);
  const yb = [y0].concat(ys, [y1]);
  for (let i = 0; i < xb.length - 1; i++) {
    const black = (i % 2 === 0) === xBlackFirst;
    if (!black) continue;
    drawFrameBar(parent, xb[i], y0 - t, xb[i + 1] - xb[i], t, '#000');
    drawFrameBar(parent, xb[i], y1, xb[i + 1] - xb[i], t, '#000');
  }
  for (let i = 0; i < yb.length - 1; i++) {
    const black = (i % 2 === 0) === yBlackFirst;
    if (!black) continue;
    drawFrameBar(parent, x0 - t, yb[i], t, yb[i + 1] - yb[i], '#000');
    drawFrameBar(parent, x1, yb[i], t, yb[i + 1] - yb[i], '#000');
  }
  const inner = node('rect', parent, {x: x0, y: y0, width: x1 - x0, height: y1 - y0, fill: 'none', stroke: '#888', 'stroke-width': 1});
  
  
}
function drawAxisTick(parent, x1, y1, x2, y2, sw, color) {
  const el = node('line', parent, {x1: x1, y1: y1, x2: x2, y2: y2, stroke: color, 'stroke-width': sw});
  
  
}
function drawSectionAxes(parent, x0, x1, y0, y1, yOf, depthMin, depthMax, xTicks) {
  for (let i = Math.ceil(depthMin * 10); i <= depthMax * 10; i++) {
    const major = i % 10 === 0;
    const y = yOf(i / 10);
    const len = major ? 8 : 4;
    drawAxisTick(parent, x0 - len, y, x0, y, 1.4, '#444');
    drawAxisTick(parent, x1, y, x1 + len, y, 1.4, '#444');
  }
  xTicks.forEach(x => drawAxisTick(parent, x, y0 - 6, x, y0, 1.4, '#444'));
  drawAxisTick(parent, x0 - 1.5, y0, x1 + 1.5, y0, 3, '#111');
  drawAxisTick(parent, x0 - 1.5, y1, x1 + 1.5, y1, 3, '#111');
}

// ---- Panel (a)
drawMapFrame($('frame-a'), 178, 723.5, 72, 527, aLonTicks.map(xA), aLatTicks.map(yA), true, false);
const gA = $('marks-a');
const mainEvents = eventsOrange.concat(eventsMaroon, eventsSalmon, eventsPale, eventsMint, eventsBlue, eventsBlack);
regional.forEach(p => drawRegional(gA, xA(p[0]), yA(p[1]), 5.2, 0.07 * p[2] + 0.02));
outerCluster.forEach(p => drawRegional(gA, xA(p[0]), yA(p[1]), 5.5, 0.7));
mainEvents.forEach(p => drawEvent(gA, xA(p[0]), yA(p[1]), 5, '#000', 'none', 0, 0.85));
stations.forEach(s => drawStation(gA, xA(s[0]), yA(s[1]), 15, 0.8));
drawEvent(gA, xA(redEpicentre[0]), yA(redEpicentre[1]), 4.5, '#e8281c', 'none', 0, 1);
aLonLabelValues.forEach((v, i) => drawTickLabel(aLonLabels[i], xA(v), 555, 40, 'middle'));
aLatLabelValues.forEach((v, i) => drawTickLabel(aLatLabels[i], 165, yA(v), 40, 'end'));

// ---- Panel (c)
drawMapFrame($('frame-c'), 921.5, 1446, 72, 527, cLonTicks.map(xC), cLatTicks.map(yC), false, false);
const gC = $('marks-c');
eventsBlack.forEach(p => {
  const el = node('ellipse', gC, {cx: xC(p[0]), cy: yC(p[1]), rx: 9.5, ry: 8.3, fill: '#000'});
  
  
});
const clusters = [[eventsBlue, '#4e9dbe'], [eventsOrange, '#f9a45c'], [eventsMaroon, '#a50a4e'], [eventsSalmon, '#ef5f50'], [eventsPale, '#fbefa5'], [eventsMint, '#a3e3b0']];
clusters.forEach(c => c[0].forEach(p => drawEvent(gC, xC(p[0]), yC(p[1]), 7.6, c[1], '#000', 3.6, 1)));
stations.forEach(s => drawStation(gC, xC(s[0]), yC(s[1]), 27, 1.6));
cLonLabelValues.forEach((v, i) => drawTickLabel(cLonLabels[i], xC(v), 555, 40, 'middle'));
cLatTicks.forEach((v, i) => drawTickLabel(cLatLabels[i], 908, yC(v), 40, 'end'));

// ---- Panel (e)
drawMapFrame($('frame-e'), 1625, 1852, 72, 527, eLonTicks.map(xE), eLatTicks.map(yE).slice(0, 1).concat([338]), true, true);
const gE = $('marks-e');
const ell = node('ellipse', gE, {cx: xE(streakEllipse[0]), cy: yE(streakEllipse[1]), rx: streakEllipse[2] * 147500, ry: streakEllipse[3] * 756000, fill: 'none', stroke: '#e6281a', 'stroke-width': 6});


streakEvents.forEach(p => drawEvent(gE, xE(p[0]), yE(p[1]), 4.5, '#e6281a', 'none', 0, 0.2 * p[2] + 0.05));
stationsE.forEach(s => drawStation(gE, xE(s[0]), yE(s[1]), 15, 1));
eLonLabelValues.forEach((v, i) => drawTickLabel(eLonLabels[i], xE(v) + 7, 544, 26, 'middle'));
eLatLabelValues.forEach((v, i) => drawTickLabel(eLatLabels[i], 1608, yE(v), 26, 'end'));

// ---- Panel (b)
const gB = $('marks-b');
regional.forEach(p => drawRegional(gB, xA(p[0]), yB(regionalBedDepth), 5, 0.3));
mainEvents.forEach(p => drawRegional(gB, xA(p[0]), yB(regionalBedDepth), 5, 0.6));
columnDepths.forEach(d => drawEvent(gB, xA(columnLon), yB(d), 5.6, '#e8281c', 'none', 0, 0.22));
stations.forEach(s => drawStation(gB, xA(s[0]), yB(stationDepth), 14, 1));
drawEvent(gB, xA(redEpicentre[0]), yB(stationDepth), 4, '#e8281c', 'none', 0, 1);
const axB = $('axes-b');
drawSectionAxes(axB, 178, 723.5, 586, 839, yB, -0.4, 1.3, [xA(-84.5), xA(-84), xA(-83.5)]);
drawAxisTick(axB, 178, 586, 178, 757, 3, '#111');
drawAxisTick(axB, 723.5, 586, 723.5, 757, 3, '#111');
bDepthLabels.forEach(d => drawTickLabel(String(d), 168, yB(d), 40, 'end'));
aLonLabelValues.forEach((v, i) => drawTickLabel(bSecLabels[i], xA(v), 867, 40, 'middle'));

// ---- Panel (d)
const gD = $('marks-d');
sectionBlack.forEach(p => drawEvent(gD, xC(p[0]), yD(p[1]), 7, '#000', 'none', 0, 1));
clusters.forEach(c => c[0].forEach(p => drawEvent(gD, xC(p[0]), yD(p[2]), 6.8, c[1], '#000', 2, 1)));
sectionPale.forEach(p => drawEvent(gD, xC(p[0]), yD(p[1]), 6.6, '#f7f4a0', '#000', 1.8, 1));
stations.forEach(s => drawStation(gD, xC(s[0]), yD(stationDepth), 27, 1.6));
const axD = $('axes-d');
drawSectionAxes(axD, 921.5, 1446, 584, 826, yD, -0.4, 2.2, cLonTicks.map(xC));
drawAxisTick(axD, 921.5, 584, 921.5, 826, 3, '#111');
drawAxisTick(axD, 1446, 584, 1446, 826, 3, '#111');
dDepthLabels.forEach(d => drawTickLabel(String(d), 913, yD(d), 40, 'end'));
dSecLabelValues.forEach((v, i) => drawTickLabel(dSecLabels[i], xC(v), 849, 40, 'middle'));

// ---- Panel (f)
const gF = $('marks-f');
fSurfaceLons.forEach(l => drawEvent(gF, xF(l), yF(fSurfaceDepth), 5, '#e8281c', 'none', 0, 0.12));
fColumn.forEach(p => drawEvent(gF, xF(p[0]), yF(p[1]), 5.5, '#e8281c', 'none', 0, 0.16));
fBed.forEach(c => c[1].forEach(d => drawEvent(gF, xF(c[0]), yF(d), 5.5, '#e8281c', 'none', 0, 0.4)));
fMislocated.forEach(c => c[1].forEach(d => drawEvent(gF, xF(c[0]), yF(d), 5.5, '#e2200f', 'none', 0, 1)));
stationsFLons.forEach(l => drawStation(gF, xF(l), yF(stationFDepth), 15, 1));
const axF = $('axes-f');
drawSectionAxes(axF, 1618, 1856, 585, 908, yF, -0.4, 3.1, [xF(-83.9376), xF(-83.9372), xF(-83.9368)]);
drawAxisTick(axF, 1618, 585, 1618, 908, 3, '#111');
drawAxisTick(axF, 1856, 585, 1856, 908, 3, '#111');
fDepthLabels.forEach(d => drawTickLabel(String(d), 1605, yF(d), 28, 'end'));
eLonLabelValues.forEach((v, i) => drawTickLabel(fSecLabels[i], xF(v), 937, 26, 'middle'));
</script>
</svg>
</body>
</html>
